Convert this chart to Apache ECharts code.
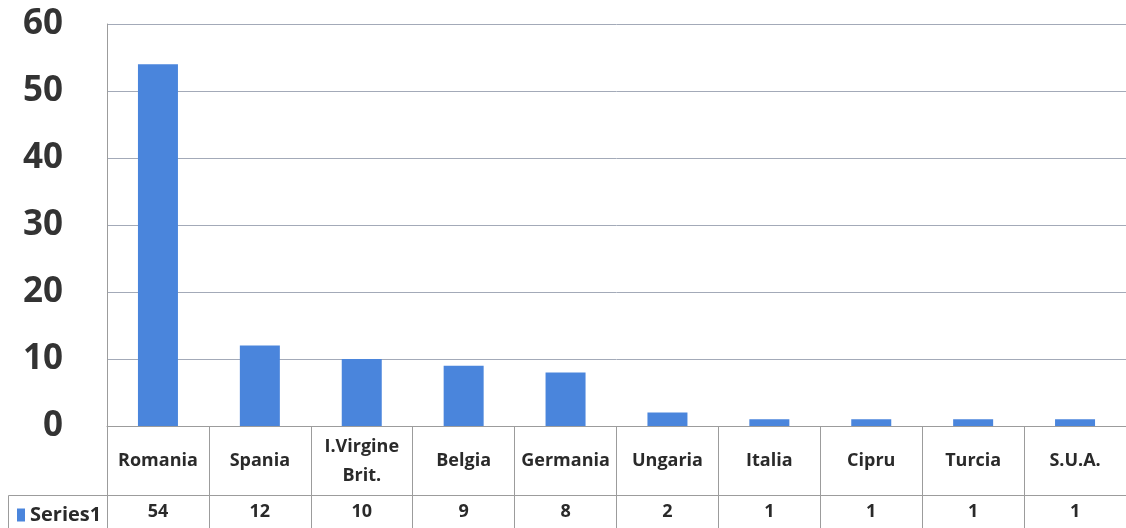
<!DOCTYPE html>
<html>
<head>
<meta charset="utf-8">
<script src="https://cdn.jsdelivr.net/npm/echarts@6/dist/echarts.min.js"></script>
<style>
html,body{margin:0;padding:0;background:#fff;}
#c{width:1126px;height:528px;}
</style>
</head>
<body>
<div id="c"></div>
<script>
const categories = ['Romania', 'Spania', 'I.Virgine\nBrit.', 'Belgia', 'Germania', 'Ungaria', 'Italia', 'Cipru', 'Turcia', 'S.U.A.'];
const values = [54, 12, 10, 9, 8, 2, 1, 1, 1, 1];
const seriesName = 'Series1';
const yTicks = { min: 0, max: 60, interval: 10 };

const FONT = '"Open Sans", "DejaVu Sans", sans-serif';
const LINE = '#9c9c9c';
const TEXT = '#2a2a2a';
const BAR = '#4a85dc';

const chart = echarts.init(document.getElementById('c'));
chart.setOption({
  animation: false,
  backgroundColor: '#ffffff',
  grid: { left: 107, top: 24, width: 1027, height: 402 },
  legend: {
    show: true,
    left: 12, top: 500,
    icon: 'rect',
    itemWidth: 8, itemHeight: 13,
    data: [seriesName],
    textStyle: { fontFamily: FONT, fontWeight: 'bold', fontSize: 20, color: TEXT },
    selectedMode: false
  },
  xAxis: [
    {
      type: 'category', data: categories, position: 'bottom',
      axisLine: { show: true, lineStyle: { color: LINE, width: 1 } },
      axisTick: { show: true, length: 69, alignWithLabel: false, lineStyle: { color: LINE, width: 1 } },
      axisLabel: {
        interval: 0, margin: 35, verticalAlign: 'middle',
        fontFamily: FONT, fontWeight: 'bold', fontSize: 18, lineHeight: 29, color: TEXT
      },
      splitLine: { show: false }
    },
    {
      type: 'category', data: categories, position: 'bottom', offset: 69,
      axisLine: { show: true, lineStyle: { color: LINE, width: 1 } },
      axisTick: { show: true, length: 40, alignWithLabel: false, lineStyle: { color: LINE, width: 1 } },
      axisLabel: {
        interval: 0, margin: 17, verticalAlign: 'middle',
        formatter: function (v, i) { return String(values[i]); },
        fontFamily: FONT, fontWeight: 'bold', fontSize: 18, color: TEXT
      },
      splitLine: { show: false }
    }
  ],
  yAxis: {
    type: 'value', min: yTicks.min, max: yTicks.max, interval: yTicks.interval,
    axisLine: { show: true, lineStyle: { color: LINE, width: 1 } },
    axisTick: { show: false },
    axisLabel: { margin: 44, fontFamily: FONT, fontWeight: 'bold', fontSize: 35, color: '#333333', padding: [4, 0, 0, 0] },
    splitLine: { show: true, lineStyle: { color: '#a3aab8', width: 1 } }
  },
  graphic: [
    { type: 'polyline', shape: { points: [[8.5, 540], [8.5, 495.5], [107, 495.5]] },
      style: { stroke: LINE, lineWidth: 1, fill: null }, silent: true }
  ],
  series: [{
    name: seriesName, type: 'bar', data: values, barWidth: 40,
    itemStyle: { color: BAR }
  }]
});
</script>
</body>
</html>
